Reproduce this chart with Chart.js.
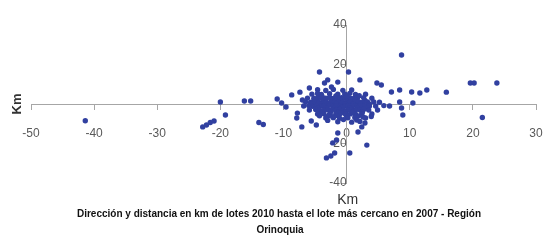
<!DOCTYPE html>
<html>
<head>
<meta charset="utf-8">
<script src="https://cdn.jsdelivr.net/npm/chart.js@4/dist/chart.umd.min.js"></script>
<style>
  html, body { margin: 0; padding: 0; background: #ffffff; }
  #c { display: block; }
</style>
</head>
<body>
<canvas id="c" width="543" height="241"></canvas>
<script>
// ---- Data (km): displacement from 2010 lots to nearest 2007 lot ----
// dense core around the origin
const coreDx = [
  -4.6,-3.3,-2.1,-0.6,0.8,
  -5.5,-4.6,-4.0,-2.7,-1.4,-0.3,0.5,1.4,3.0,
  -6.2,-5.2,-4.6,-4.0,-3.3,-2.7,-2.1,-1.4,-0.8,-0.2,0.5,1.1,1.7,2.7,4.0,
  -4.9,-3.6,-2.4,-1.1,0.2,1.4,2.9,
  -6.5,-5.7,-5.1,-4.4,-3.8,-3.2,-2.5,-1.9,-1.3,-0.6,0.0,0.6,1.3,1.9,2.5,3.3,4.3,5.2,
  -5.4,-4.1,-2.9,-1.6,-0.3,1.0,2.2,3.6,
  -6.8,-6.0,-5.4,-4.8,-4.1,-3.5,-2.9,-2.2,-1.6,-1.0,-0.3,0.3,1.0,1.6,2.2,2.9,3.6,4.6,5.9,
  -4.6,-3.3,-2.0,-0.8,0.5,1.7,3.2,
  -5.9,-4.9,-4.3,-3.6,-3.0,-2.4,-1.7,-1.1,-0.5,0.2,0.8,1.4,2.1,2.7,3.5,4.9,
  -3.9,-2.5,-1.4,-0.2,1.1,2.5,
  -4.6,-3.6,-2.7,-1.7,-1.0,-0.2,0.6,1.4,2.4,4.0,
  -2.9,-1.4,0.0,1.9,
  -3.3,-2.1,-1.1,0.2,1.3,3.0,
  -1.4,0.8,2.1,
  -3.9,-1.7,0.0,2.0,-4.3,-2.2,-0.5,1.6,3.9,-3.0,-0.9,0.9,2.6
];
const coreDy = [
  7.2,6.8,7.4,6.9,7.1,
  5.0,5.3,4.8,5.2,4.9,5.1,5.4,4.8,5.0,
  3.0,2.8,3.2,3.1,2.9,3.3,2.8,3.0,3.2,2.9,3.1,2.8,3.0,3.2,2.9,
  2.1,1.8,2.2,1.9,2.0,2.2,1.8,
  1.1,0.9,1.2,0.8,1.0,1.1,0.9,1.2,1.0,0.8,1.1,0.9,1.0,1.2,0.8,1.0,1.1,0.9,
  0.0,0.2,-0.1,0.1,0.0,-0.2,0.1,0.0,
  -1.0,-0.8,-1.2,-0.9,-1.1,-1.0,-0.8,-1.2,-1.0,-0.9,-1.1,-1.0,-0.8,-1.2,-1.0,-0.9,-1.1,-1.0,-0.8,
  -2.1,-1.9,-2.2,-1.8,-2.0,-2.1,-1.9,
  -3.0,-2.8,-3.2,-3.1,-2.9,-3.0,-3.2,-2.8,-3.1,-3.0,-2.9,-3.2,-3.0,-2.8,-3.1,-3.0,
  -4.1,-3.9,-4.2,-4.0,-3.8,-4.1,
  -5.1,-4.9,-5.2,-5.0,-4.8,-5.1,-5.0,-5.2,-4.9,-5.0,
  -6.1,-5.9,-6.2,-6.0,
  -7.1,-6.9,-7.2,-7.0,-6.8,-7.1,
  -9.0,-9.2,-8.8,
  4.0,4.1,3.9,4.2,-6.0,-6.4,-7.9,-8.1,-6.3,-8.3,-4.4,-4.2,-6.6
];
// scattered lots further away
const farDx = [
  -41.4,-22.8,-22.2,-21.6,-21.0,-20.0,-19.2,-16.2,-15.2,-13.9,-13.2,
  -11.0,-10.3,-9.6,-8.7,-7.4,-7.0,-7.9,-7.8,-7.1,-4.8,-5.9,-5.6,
  -4.3,-3.5,-2.4,-1.4,-3.0,0.3,2.1,4.8,5.5,8.7,
  7.1,8.4,10.3,11.6,12.7,15.8,19.6,20.2,23.8,
  8.4,10.5,8.7,8.9,6.8,21.5,
  -1.4,1.8,2.4,2.9,3.2,-2.2,-1.6,-3.2,-2.5,-1.9,0.5
];
const farDy = [
  -8.5,-11.6,-10.6,-9.4,-8.6,1.0,-5.6,1.5,1.5,-9.4,-10.4,
  2.5,0.5,-1.5,4.6,6.0,2.0,-7.1,-4.6,-11.6,-10.6,8.1,-8.6,
  16.2,10.6,8.6,11.1,12.2,16.2,12.2,10.6,9.6,24.8,
  6.1,7.1,6.1,5.6,7.1,6.0,10.6,10.6,10.6,
  1.0,0.5,-2.0,-5.6,-1.0,-6.8,
  -14.7,-14.2,-11.6,-9.6,-20.8,-19.7,-18.2,-27.3,-26.3,-24.8,-24.8
];
const xTicks = [-50,-40,-30,-20,-10,0,10,20,30];
const yTicks = [-40,-20,0,20,40];
const xTitle = 'Km';
const yTitle = 'Km';
const captionLines = [
  'Dirección y distancia en km de lotes 2010 hasta el lote más cercano en 2007 - Región',
  'Orinoquia'
];

const allDx = coreDx.concat(farDx);
const allDy = coreDy.concat(farDy);
const points = allDx.map((x, i) => ({ x: x, y: allDy[i] }));

const axisGray = '#a6a6a6';
const tickFont = { family: "'Liberation Sans', Arial, sans-serif", size: 12 };

const textPlugin = {
  id: 'textPlugin',
  afterDraw(chart) {
    const ctx = chart.ctx;
    const xs = chart.scales.x, ys = chart.scales.y;
    ctx.save();
    ctx.fillStyle = '#333333';
    ctx.font = "bold 13px 'Liberation Sans', Arial, sans-serif";
    ctx.textAlign = 'center';
    ctx.textBaseline = 'middle';
    ctx.translate(17, ys.getPixelForValue(0));
    ctx.rotate(-Math.PI / 2);
    ctx.fillText(yTitle, 0, 0);
    ctx.restore();
    ctx.save();
    ctx.fillStyle = '#333333';
    ctx.font = "14px 'Liberation Sans', Arial, sans-serif";
    ctx.textAlign = 'center';
    ctx.textBaseline = 'middle';
    ctx.fillText(xTitle, xs.getPixelForValue(0) + 1, 200);
    ctx.fillStyle = '#111111';
    ctx.font = "bold 10px 'Liberation Sans Narrow', 'Liberation Sans', Arial, sans-serif";
    ctx.fillText(captionLines[0], 279, 214, 408);
    ctx.fillText(captionLines[1], 280, 230, 52);
    ctx.restore();
  }
};

new Chart(document.getElementById('c'), {
  type: 'scatter',
  data: {
    datasets: [{
      data: points,
      backgroundColor: '#3140a0',
      borderColor: '#3140a0',
      borderWidth: 0,
      pointRadius: 2.7,
      pointHoverRadius: 2.7
    }]
  },
  options: {
    responsive: false,
    animation: false,
    devicePixelRatio: 1,
    layout: { padding: { left: 31, right: 7, top: 25, bottom: 58 } },
    plugins: { legend: { display: false }, tooltip: { enabled: false }, title: { display: false } },
    scales: {
      x: {
        type: 'linear',
        position: { y: 0 },
        min: -50, max: 30,
        afterFit(s) { s.height = 0; s.paddingLeft = 0; s.paddingRight = 0; },
        afterBuildTicks(s) { s.ticks = xTicks.map(v => ({ value: v })); },
        ticks: { autoSkip: false, maxRotation: 0, padding: 17, color: '#595959', font: tickFont },
        grid: { drawOnChartArea: false, drawTicks: true, tickLength: 5, color: axisGray },
        border: { color: axisGray, width: 1 }
      },
      y: {
        type: 'linear',
        position: { x: 0 },
        min: -40, max: 40,
        afterFit(s) { s.width = 0; s.paddingTop = 0; s.paddingBottom = 0; },
        afterBuildTicks(s) { s.ticks = yTicks.map(v => ({ value: v })); },
        ticks: { autoSkip: false, padding: 12, color: '#595959', font: tickFont },
        grid: { drawOnChartArea: false, drawTicks: true, tickLength: 5, color: axisGray },
        border: { color: axisGray, width: 1 }
      }
    }
  },
  plugins: [textPlugin]
});
</script>
</body>
</html>
